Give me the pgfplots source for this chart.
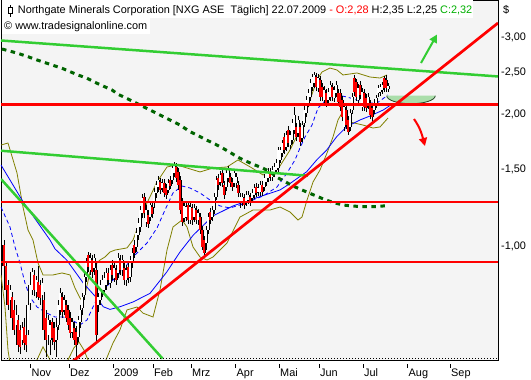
\documentclass[border=0pt]{standalone}
\usepackage{pgfplots}
\pgfplotsset{compat=1.18}
\usepackage{pgfplotstable}
\usepackage{fontspec}
\setmainfont{Liberation Sans}
\usetikzlibrary{arrows.meta}
\definecolor{bg}{RGB}{244,244,244}
\definecolor{lgreen}{RGB}{50,205,50}
\definecolor{dgreen}{RGB}{0,100,0}
\definecolor{bband}{RGB}{128,128,0}
\definecolor{bowl}{RGB}{170,222,170}
\definecolor{bowlline}{RGB}{40,70,40}
\definecolor{cgreen}{RGB}{0,176,0}

% candle wicks: low, high, break
\pgfplotstableread[row sep=\\]{
x y\\
4 0.882\\4 1.032\\4 nan\\ 6 0.769\\6 0.919\\6 nan\\ 8 0.715\\8 0.837\\8 nan\\
10 0.734\\10 0.815\\10 nan\\ 12 0.671\\12 0.785\\12 nan\\ 14 0.627\\14 0.753\\14 nan\\
16 0.637\\16 0.734\\16 nan\\ 18 0.573\\18 0.696\\18 nan\\ 20 0.567\\20 0.661\\20 nan\\
22 0.595\\22 0.671\\22 nan\\ 24 0.579\\24 0.685\\24 nan\\ 26 0.573\\26 0.644\\26 nan\\
28 0.627\\28 0.753\\28 nan\\ 30 0.715\\30 0.837\\30 nan\\ 32 0.773\\32 0.891\\32 nan\\
34 0.769\\34 0.882\\34 nan\\ 36 0.761\\36 0.854\\36 nan\\ 38 0.753\\38 0.900\\38 nan\\
40 0.734\\40 0.837\\40 nan\\ 42 0.753\\42 0.845\\42 nan\\ 44 0.611\\44 0.785\\44 nan\\
46 0.558\\46 0.715\\46 nan\\ 48 0.595\\48 0.696\\48 nan\\ 50 0.564\\50 0.678\\50 nan\\
52 0.595\\52 0.685\\52 nan\\ 54 0.579\\54 0.671\\54 nan\\ 56 0.558\\56 0.685\\56 nan\\
58 0.644\\58 0.753\\58 nan\\ 60 0.696\\60 0.802\\60 nan\\ 62 0.685\\62 0.785\\62 nan\\
64 0.696\\64 0.773\\64 nan\\ 66 0.671\\66 0.753\\66 nan\\ 68 0.644\\68 0.734\\68 nan\\
70 0.617\\70 0.707\\70 nan\\ 72 0.617\\72 0.685\\72 nan\\ 74 0.595\\74 0.671\\74 nan\\
76 0.556\\76 0.657\\76 nan\\ 78 0.604\\78 0.693\\78 nan\\ 80 0.650\\80 0.734\\80 nan\\
82 0.696\\82 0.781\\82 nan\\ 84 0.753\\84 0.872\\84 nan\\ 86 0.828\\86 0.939\\86 nan\\
88 0.872\\88 0.969\\88 nan\\ 90 0.859\\90 0.964\\90 nan\\ 92 0.845\\92 0.954\\92 nan\\
94 0.859\\94 0.959\\94 nan\\ 96 0.607\\96 0.919\\96 nan\\ 98 0.707\\98 0.781\\98 nan\\
100 0.734\\100 0.837\\100 nan\\ 102 0.765\\102 0.859\\102 nan\\ 104 0.773\\104 0.872\\104 nan\\
106 0.794\\106 0.891\\106 nan\\ 108 0.815\\108 0.891\\108 nan\\ 110 0.802\\110 0.905\\110 nan\\
112 0.837\\112 0.929\\112 nan\\ 114 0.828\\114 0.919\\114 nan\\ 116 0.815\\116 0.905\\116 nan\\
118 0.845\\118 0.964\\118 nan\\ 120 0.859\\120 0.954\\120 nan\\ 122 0.854\\122 0.954\\122 nan\\
124 0.815\\124 0.919\\124 nan\\ 126 0.811\\126 0.905\\126 nan\\ 128 0.823\\128 0.919\\128 nan\\
130 0.828\\130 0.949\\130 nan\\ 132 0.891\\132 0.990\\132 nan\\ 134 0.939\\134 1.032\\134 nan\\
136 0.969\\136 1.099\\136 nan\\ 138 1.032\\138 1.158\\138 nan\\ 140 1.076\\140 1.234\\140 nan\\
142 1.158\\142 1.314\\142 nan\\ 144 1.158\\144 1.321\\144 nan\\ 146 1.105\\146 1.240\\146 nan\\
148 1.099\\148 1.208\\148 nan\\ 150 1.140\\150 1.266\\150 nan\\ 152 1.158\\152 1.260\\152 nan\\
154 1.221\\154 1.356\\154 nan\\ 156 1.287\\156 1.407\\156 nan\\ 158 1.328\\158 1.444\\158 nan\\
160 1.314\\160 1.429\\160 nan\\ 162 1.328\\162 1.421\\162 nan\\ 164 1.293\\164 1.421\\164 nan\\
166 1.280\\166 1.385\\166 nan\\ 168 1.321\\168 1.421\\168 nan\\ 170 1.349\\170 1.444\\170 nan\\
172 1.385\\172 1.538\\172 nan\\ 174 1.436\\174 1.554\\174 nan\\ 176 1.399\\176 1.546\\176 nan\\
178 1.342\\178 1.506\\178 nan\\ 180 1.183\\180 1.444\\180 nan\\ 182 1.111\\182 1.287\\182 nan\\
184 1.134\\184 1.260\\184 nan\\ 186 1.140\\186 1.253\\186 nan\\ 188 1.122\\188 1.266\\188 nan\\
190 1.122\\190 1.253\\190 nan\\ 192 1.117\\192 1.247\\192 nan\\ 194 1.134\\194 1.247\\194 nan\\
196 1.122\\196 1.234\\196 nan\\ 198 1.117\\198 1.214\\198 nan\\ 200 1.065\\200 1.189\\200 nan\\
202 0.979\\202 1.111\\202 nan\\ 204 0.944\\204 1.054\\204 nan\\ 206 0.979\\206 1.111\\206 nan\\
208 1.065\\208 1.189\\208 nan\\ 210 1.122\\210 1.221\\210 nan\\ 212 1.140\\212 1.234\\212 nan\\
214 1.183\\214 1.321\\214 nan\\ 216 1.273\\216 1.444\\216 nan\\ 218 1.342\\218 1.459\\218 nan\\
220 1.370\\220 1.482\\220 nan\\ 222 1.363\\222 1.498\\222 nan\\ 224 1.280\\224 1.407\\224 nan\\
226 1.335\\226 1.498\\226 nan\\ 228 1.399\\228 1.522\\228 nan\\ 230 1.363\\230 1.467\\230 nan\\
232 1.335\\232 1.429\\232 nan\\ 234 1.363\\234 1.498\\234 nan\\ 236 1.356\\236 1.467\\236 nan\\
238 1.293\\238 1.407\\238 nan\\ 240 1.221\\240 1.321\\240 nan\\ 242 1.234\\242 1.321\\242 nan\\
244 1.214\\244 1.314\\244 nan\\ 246 1.234\\246 1.335\\246 nan\\ 248 1.247\\248 1.335\\248 nan\\
250 1.234\\250 1.321\\250 nan\\ 252 1.260\\252 1.349\\252 nan\\ 254 1.280\\254 1.385\\254 nan\\
256 1.293\\256 1.392\\256 nan\\ 258 1.300\\258 1.385\\258 nan\\ 260 1.300\\260 1.407\\260 nan\\
262 1.300\\262 1.407\\262 nan\\ 264 1.335\\264 1.459\\264 nan\\ 266 1.370\\266 1.498\\266 nan\\
268 1.399\\268 1.506\\268 nan\\ 270 1.407\\270 1.506\\270 nan\\ 272 1.407\\272 1.522\\272 nan\\
274 1.436\\274 1.546\\274 nan\\ 276 1.459\\276 1.579\\276 nan\\ 278 1.475\\278 1.681\\278 nan\\
280 1.546\\280 1.681\\280 nan\\ 282 1.595\\282 1.744\\282 nan\\ 284 1.621\\284 1.810\\284 nan\\
286 1.646\\286 1.829\\286 nan\\ 288 1.681\\288 1.877\\288 nan\\ 290 1.664\\290 1.829\\290 nan\\
292 1.708\\292 1.948\\292 nan\\ 294 1.800\\294 2.074\\294 nan\\ 296 1.735\\296 1.907\\296 nan\\
298 1.772\\298 1.979\\298 nan\\ 300 1.690\\300 1.907\\300 nan\\ 302 1.726\\302 1.927\\302 nan\\
304 1.868\\304 2.085\\304 nan\\ 306 1.968\\306 2.198\\306 nan\\ 308 2.074\\308 2.280\\308 nan\\
310 2.141\\310 2.403\\310 nan\\ 312 2.256\\312 2.467\\312 nan\\ 314 2.292\\314 2.493\\314 nan\\
316 2.256\\316 2.480\\316 nan\\ 318 2.244\\318 2.467\\318 nan\\ 320 2.141\\320 2.441\\320 nan\\
322 2.141\\322 2.353\\322 nan\\ 324 2.107\\324 2.316\\324 nan\\ 326 2.074\\326 2.280\\326 nan\\
328 2.107\\328 2.292\\328 nan\\ 330 2.141\\330 2.378\\330 nan\\ 332 2.141\\332 2.353\\332 nan\\
334 2.130\\334 2.316\\334 nan\\ 336 2.186\\336 2.378\\336 nan\\ 338 2.085\\338 2.280\\338 nan\\
340 2.031\\340 2.280\\340 nan\\ 342 1.927\\342 2.198\\342 nan\\ 344 1.829\\344 2.118\\344 nan\\
346 1.848\\346 2.085\\346 nan\\ 348 1.791\\348 1.979\\348 nan\\ 350 1.829\\350 2.053\\350 nan\\
352 2.000\\352 2.232\\352 nan\\ 354 2.198\\354 2.454\\354 nan\\ 356 2.141\\356 2.403\\356 nan\\
358 2.107\\358 2.340\\358 nan\\ 360 2.163\\360 2.378\\360 nan\\ 362 2.031\\362 2.292\\362 nan\\
364 2.031\\364 2.280\\364 nan\\ 366 2.021\\366 2.221\\366 nan\\ 368 2.053\\368 2.232\\368 nan\\
370 1.948\\370 2.152\\370 nan\\ 372 1.917\\372 2.107\\372 nan\\ 374 2.000\\374 2.163\\374 nan\\
376 2.063\\376 2.209\\376 nan\\ 378 2.186\\378 2.328\\378 nan\\ 380 2.198\\380 2.340\\380 nan\\
382 2.221\\382 2.365\\382 nan\\ 384 2.244\\384 2.441\\384 nan\\ 386 2.244\\386 2.454\\386 nan\\
388 2.25\\388 2.35\\388 nan\\
}\wicks

% falling candles: open, close, break
\pgfplotstableread[row sep=\\]{
x y\\
4 1.005\\4 0.900\\4 nan\\ 6 0.900\\6 0.794\\6 nan\\ 8 0.815\\8 0.734\\8 nan\\
12 0.765\\12 0.685\\12 nan\\ 14 0.715\\14 0.644\\14 nan\\ 18 0.678\\18 0.595\\18 nan\\
20 0.644\\20 0.589\\20 nan\\ 24 0.654\\24 0.601\\24 nan\\ 26 0.627\\26 0.595\\26 nan\\
34 0.859\\34 0.794\\34 nan\\ 38 0.828\\38 0.765\\38 nan\\ 40 0.815\\40 0.761\\40 nan\\
44 0.753\\44 0.644\\44 nan\\ 46 0.685\\46 0.611\\46 nan\\ 52 0.671\\52 0.617\\52 nan\\
54 0.650\\54 0.604\\54 nan\\ 62 0.765\\62 0.707\\62 nan\\ 66 0.734\\66 0.685\\66 nan\\
68 0.715\\68 0.661\\68 nan\\ 70 0.685\\70 0.633\\70 nan\\ 74 0.650\\74 0.611\\74 nan\\
76 0.637\\76 0.595\\76 nan\\ 88 0.954\\88 0.896\\88 nan\\ 92 0.929\\92 0.872\\92 nan\\
96 0.882\\96 0.627\\96 nan\\ 108 0.868\\108 0.837\\108 nan\\ 112 0.905\\112 0.859\\112 nan\\
116 0.882\\116 0.837\\116 nan\\ 120 0.929\\120 0.882\\120 nan\\ 124 0.891\\124 0.837\\124 nan\\
128 0.896\\128 0.845\\128 nan\\ 134 1.005\\134 0.964\\134 nan\\ 144 1.293\\144 1.189\\144 nan\\
148 1.177\\148 1.122\\148 nan\\ 152 1.227\\152 1.183\\152 nan\\ 160 1.399\\160 1.342\\160 nan\\
164 1.392\\164 1.321\\164 nan\\ 166 1.356\\166 1.307\\166 nan\\ 170 1.414\\170 1.370\\170 nan\\
176 1.514\\176 1.429\\176 nan\\ 178 1.475\\178 1.377\\178 nan\\ 180 1.414\\180 1.208\\180 nan\\
182 1.253\\182 1.134\\182 nan\\ 188 1.240\\188 1.146\\188 nan\\ 192 1.221\\192 1.146\\192 nan\\
196 1.208\\196 1.146\\196 nan\\ 200 1.164\\200 1.088\\200 nan\\ 202 1.088\\202 0.995\\202 nan\\
204 1.032\\204 0.964\\204 nan\\ 210 1.195\\210 1.146\\210 nan\\ 218 1.429\\218 1.377\\218 nan\\
222 1.467\\222 1.392\\222 nan\\ 224 1.377\\224 1.307\\224 nan\\ 230 1.436\\230 1.392\\230 nan\\
232 1.399\\232 1.363\\232 nan\\ 238 1.377\\238 1.321\\238 nan\\ 244 1.287\\244 1.240\\244 nan\\
250 1.293\\250 1.260\\250 nan\\ 256 1.363\\256 1.321\\256 nan\\ 262 1.377\\262 1.328\\262 nan\\
270 1.475\\270 1.436\\270 nan\\ 284 1.772\\284 1.655\\284 nan\\ 288 1.838\\288 1.717\\288 nan\\
296 1.868\\296 1.772\\296 nan\\ 300 1.868\\300 1.726\\300 nan\\ 316 2.428\\316 2.304\\316 nan\\
320 2.390\\320 2.186\\320 nan\\ 322 2.304\\322 2.186\\322 nan\\ 326 2.232\\326 2.118\\326 nan\\
332 2.304\\332 2.186\\332 nan\\ 338 2.232\\338 2.130\\338 nan\\ 340 2.232\\340 2.074\\340 nan\\
342 2.152\\342 1.968\\342 nan\\ 346 2.042\\346 1.887\\346 nan\\ 348 1.938\\348 1.819\\348 nan\\
354 2.415\\354 2.244\\354 nan\\ 356 2.365\\356 2.186\\356 nan\\ 360 2.328\\360 2.209\\360 nan\\
364 2.232\\364 2.074\\364 nan\\ 366 2.175\\366 2.063\\366 nan\\ 370 2.107\\370 1.989\\370 nan\\
372 2.063\\372 1.968\\372 nan\\ 384 2.415\\384 2.292\\384 nan\\ 386 2.390\\386 2.292\\386 nan\\
}\downbodies

% rising candles: open, close, break
\pgfplotstableread[row sep=\\]{
x y\\
10 0.753\\10 0.794\\10 nan\\ 16 0.661\\16 0.696\\16 nan\\ 22 0.611\\22 0.650\\22 nan\\
28 0.644\\28 0.734\\28 nan\\ 30 0.741\\30 0.815\\30 nan\\ 32 0.794\\32 0.872\\32 nan\\
36 0.785\\36 0.837\\36 nan\\ 42 0.773\\42 0.823\\42 nan\\ 48 0.627\\48 0.678\\48 nan\\
50 0.611\\50 0.661\\50 nan\\ 56 0.611\\56 0.654\\56 nan\\ 58 0.661\\58 0.734\\58 nan\\
60 0.715\\60 0.781\\60 nan\\ 64 0.715\\64 0.753\\64 nan\\ 72 0.637\\72 0.671\\72 nan\\
78 0.620\\78 0.678\\78 nan\\ 80 0.671\\80 0.715\\80 nan\\ 82 0.722\\82 0.765\\82 nan\\
84 0.773\\84 0.850\\84 nan\\ 86 0.850\\86 0.919\\86 nan\\ 90 0.882\\90 0.939\\90 nan\\
94 0.891\\94 0.939\\94 nan\\ 98 0.734\\98 0.765\\98 nan\\ 100 0.753\\100 0.815\\100 nan\\
102 0.785\\102 0.837\\102 nan\\ 104 0.794\\104 0.845\\104 nan\\ 106 0.815\\106 0.868\\106 nan\\
110 0.823\\110 0.882\\110 nan\\ 114 0.845\\114 0.891\\114 nan\\ 118 0.868\\118 0.939\\118 nan\\
122 0.882\\122 0.929\\122 nan\\ 126 0.837\\126 0.882\\126 nan\\ 130 0.850\\130 0.929\\130 nan\\
132 0.915\\132 0.964\\132 nan\\ 136 0.995\\136 1.071\\136 nan\\ 138 1.059\\138 1.128\\138 nan\\
140 1.105\\140 1.208\\140 nan\\ 142 1.189\\142 1.287\\142 nan\\ 146 1.134\\146 1.208\\146 nan\\
150 1.164\\150 1.240\\150 nan\\ 154 1.253\\154 1.328\\154 nan\\ 156 1.321\\156 1.377\\156 nan\\
158 1.363\\158 1.414\\158 nan\\ 162 1.356\\162 1.392\\162 nan\\ 168 1.342\\168 1.392\\168 nan\\
172 1.414\\172 1.506\\172 nan\\ 174 1.467\\174 1.530\\174 nan\\ 184 1.158\\184 1.234\\184 nan\\
186 1.164\\186 1.227\\186 nan\\ 190 1.146\\190 1.227\\190 nan\\ 194 1.164\\194 1.221\\194 nan\\
198 1.146\\198 1.189\\198 nan\\ 206 1.016\\206 1.088\\206 nan\\ 208 1.088\\208 1.164\\208 nan\\
212 1.164\\212 1.208\\212 nan\\ 214 1.208\\214 1.293\\214 nan\\ 216 1.293\\216 1.414\\216 nan\\
220 1.399\\220 1.452\\220 nan\\ 226 1.363\\226 1.467\\226 nan\\ 228 1.429\\228 1.490\\228 nan\\
234 1.392\\234 1.467\\234 nan\\ 236 1.392\\236 1.436\\236 nan\\ 240 1.253\\240 1.293\\240 nan\\
242 1.260\\242 1.293\\242 nan\\ 246 1.260\\246 1.307\\246 nan\\ 248 1.273\\248 1.307\\248 nan\\
252 1.287\\252 1.321\\252 nan\\ 254 1.307\\254 1.356\\254 nan\\ 258 1.328\\258 1.356\\258 nan\\
260 1.328\\260 1.377\\260 nan\\ 264 1.363\\264 1.429\\264 nan\\ 266 1.399\\266 1.467\\266 nan\\
268 1.429\\268 1.475\\268 nan\\ 272 1.436\\272 1.490\\272 nan\\ 274 1.467\\274 1.514\\274 nan\\
276 1.490\\276 1.546\\276 nan\\ 278 1.506\\278 1.655\\278 nan\\ 280 1.571\\280 1.655\\280 nan\\
282 1.629\\282 1.717\\282 nan\\ 286 1.681\\286 1.791\\286 nan\\ 290 1.699\\290 1.791\\290 nan\\
292 1.744\\292 1.907\\292 nan\\ 294 1.838\\294 1.989\\294 nan\\ 298 1.810\\298 1.938\\298 nan\\
302 1.763\\302 1.887\\302 nan\\ 304 1.907\\304 2.042\\304 nan\\ 306 2.010\\306 2.152\\306 nan\\
308 2.118\\308 2.232\\308 nan\\ 310 2.186\\310 2.353\\310 nan\\ 312 2.304\\312 2.428\\312 nan\\
314 2.353\\314 2.454\\314 nan\\ 318 2.292\\318 2.415\\318 nan\\ 324 2.152\\324 2.268\\324 nan\\
328 2.152\\328 2.244\\328 nan\\ 330 2.186\\330 2.328\\330 nan\\ 334 2.175\\334 2.268\\334 nan\\
336 2.232\\336 2.328\\336 nan\\ 344 1.868\\344 2.074\\344 nan\\ 350 1.868\\350 2.010\\350 nan\\
352 2.042\\352 2.186\\352 nan\\ 358 2.152\\358 2.292\\358 nan\\ 362 2.074\\362 2.244\\362 nan\\
368 2.096\\368 2.186\\368 nan\\ 374 2.042\\374 2.118\\374 nan\\ 376 2.096\\376 2.175\\376 nan\\
378 2.232\\378 2.292\\378 nan\\ 380 2.244\\380 2.304\\380 nan\\ 382 2.268\\382 2.328\\382 nan\\
388 2.28\\388 2.32\\388 nan\\
}\upbodies

\begin{document}
\begin{tikzpicture}
\useasboundingbox (0pt,0pt) rectangle (531pt,380pt);
\begin{axis}[
  at={(1pt,20pt)}, anchor=south west,
  scale only axis, width=497pt, height=360pt,
  xmin=1, xmax=498, ymode=log, ymin=0.5497, ymax=3.6377,
  axis background/.style={fill=bg},
  axis line style={line width=0.8pt, black},
  xtick={30.5,69,113,153,191,235.5,279,319,363,407.5,450},
  xticklabels={Nov,Dez,2009,Feb,Mrz,Apr,Mai,Jun,Jul,Aug,Sep},
  ytick={1,1.5,2,2.5,3},
  yticklabels={{-1,00},{-1,50},{-2,00},{-2,50},{-3,00}},
  yticklabel pos=right,
  xtick pos=lower,
  ytick style={draw=none},
  tick align=inside,
  major tick length=4pt,
  xtick style={black, line width=0.6pt, yshift=-8pt},
  xticklabel style={anchor=base west, inner sep=0pt, xshift=1pt, yshift=-16.7pt},
  yticklabel style={anchor=base west, inner sep=0pt, xshift=3pt, yshift=-3.9pt},
  tick label style={font=\fontsize{10.9}{13}\selectfont},
  unbounded coords=jump,
  filter discard warning=false,
]
% Bollinger bands
\addplot[bband, line width=0.8pt] coordinates {(1,1.699)(8,1.717)(17,1.467)(23,1.227)(28,1.088)(33,1.032)(38,0.915)(43,0.859)(53,0.859)(62,0.868)(70,0.859)(75,0.802)(80,0.761)(83,0.745)(86,0.794)(90,0.872)(95,0.905)(100,0.929)(105,0.944)(110,0.969)(115,0.979)(127,0.990)(133,1.032)(147,1.253)(157,1.399)(167,1.514)(177,1.530)(187,1.506)(200,1.475)(213,1.506)(227,1.514)(238,1.571)(252,1.506)(263,1.452)(273,1.475)(280,1.522)(290,1.655)(303,1.907)(310,2.152)(317,2.390)(322,2.493)(330,2.545)(337,2.519)(343,2.454)(357,2.480)(370,2.428)(380,2.415)(387,2.454)};
\addplot[bband, line width=0.8pt] coordinates {(1,0.859)(5,0.726)(8,0.579)(11,0.522)(20,0.495)(30,0.517)(37,0.550)(43,0.589)(50,0.550)(60,0.517)(68,0.550)(74,0.586)(79,0.604)(84,0.579)(90,0.536)(100,0.522)(106,0.550)(113,0.601)(120,0.644)(127,0.715)(137,0.726)(143,0.703)(153,0.689)(160,0.794)(167,0.979)(173,1.105)(182,1.146)(187,1.105)(193,0.995)(200,0.944)(207,0.929)(213,0.944)(227,1.016)(240,1.164)(253,1.208)(270,1.208)(280,1.227)(290,1.195)(298,1.146)(302,1.164)(307,1.273)(313,1.399)(320,1.490)(327,1.629)(333,1.772)(338,1.938)(342,2.010)(350,1.917)(363,1.887)(373,1.858)(380,1.868)(388,1.958)};
% moving averages
\addplot[blue, line width=0.8pt] coordinates {(1,1.530)(23,1.262)(50,1.032)(55,0.985)(66.7,0.929)(83.3,0.823)(96.7,0.761)(103.3,0.727)(110,0.717)(120,0.727)(133.3,0.746)(150,0.780)(166.7,0.872)(180,0.969)(193.3,1.059)(206.7,1.134)(213,1.171)(233,1.234)(250,1.273)(265,1.307)(280,1.342)(290,1.388)(306.7,1.477)(316.7,1.571)(326.7,1.655)(336.7,1.775)(346.7,1.871)(360,1.938)(370,1.979)(383.3,2.042)(393.3,2.115)};
\addplot[blue, line width=0.8pt, dash pattern=on 4pt off 3pt] coordinates {(1,1.227)(10,1.105)(15,0.995)(20,0.915)(25,0.823)(30,0.765)(37,0.726)(47,0.703)(55,0.689)(63,0.689)(72,0.678)(80,0.661)(87,0.678)(93,0.726)(100,0.781)(110,0.823)(123,0.882)(133,0.944)(147,1.016)(157,1.099)(165,1.208)(173,1.321)(182,1.370)(190,1.356)(200,1.321)(210,1.273)(220,1.234)(230,1.221)(240,1.240)(253,1.273)(263,1.300)(277,1.363)(287,1.467)(295,1.571)(300,1.673)(305,1.772)(312,1.887)(318,2.063)(328,2.175)(337,2.209)(347,2.186)(357,2.152)(367,2.118)(377,2.118)(388,2.209)};
% candles
\addplot[black, line width=0.8pt] table {\wicks};
\addplot[black, line width=3pt] table {\downbodies};
\addplot[black, line width=3pt] table {\upbodies};
\addplot[red, line width=1.2pt] table {\downbodies};
\addplot[white, line width=1.2pt] table {\upbodies};
% long moving average (dotted)
\addplot[dgreen, line width=3pt, dash pattern=on 4.5pt off 4.5pt] coordinates {(2,2.812)(12,2.773)(20,2.739)(28,2.701)(37,2.655)(45,2.618)(53,2.582)(62,2.542)(70,2.497)(78,2.454)(87,2.412)(95,2.361)(103,2.316)(112,2.268)(118,2.218)(130,2.152)(140,2.096)(150,2.042)(160,1.989)(170,1.938)(180,1.887)(190,1.822)(197,1.791)(205,1.751)(215,1.708)(223,1.670)(230,1.635)(238,1.593)(245,1.565)(253,1.536)(262,1.508)(270,1.477)(277,1.434)(285,1.402)(293,1.370)(302,1.342)(310,1.318)(318,1.295)(326,1.273)(334,1.255)(343,1.240)(352,1.234)(360,1.230)(368,1.230)(377,1.230)(387,1.236)};
% green trend lines
\addplot[lgreen, line width=2.5pt] coordinates {(1,2.941)(498,2.435)};
\addplot[lgreen, line width=2.5pt] coordinates {(1,1.649)(308,1.446)};
\addplot[lgreen, line width=2.5pt] coordinates {(1,1.421)(162.5,0.554)};
% bottom dotted line
\draw[black, line width=0.6pt, dash pattern=on 1pt off 2pt] (axis cs:1,0.5547) -- (axis cs:498,0.5547);
% bowl
\fill[bowl] (axis cs:386.7,2.201) arc[start angle=180, end angle=360, x radius=24.3pt, y radius=8pt] -- cycle;
\draw[bowlline, line width=0.8pt] (axis cs:386.7,2.201) arc[start angle=180, end angle=360, x radius=24.3pt, y radius=8pt];
% red lines
\addplot[red, line width=2.7pt] coordinates {(1,2.10)(498,2.10)};
\addplot[red, line width=2.7pt] coordinates {(1,1.26)(498,1.26)};
\addplot[red, line width=2.7pt] coordinates {(1,0.92)(498,0.92)};
\addplot[red, line width=2.7pt] coordinates {(72.3,0.5447)(498,3.224)};
\end{axis}
\begin{scope}[x=1pt,y=1pt]
% arrows
\draw[lgreen, line width=2pt, -{Triangle[length=8pt,width=8pt]}] (421,317) -- (437,345.5);
\draw[red, line width=2pt, -{Triangle[length=8pt,width=8pt]}] (414,261) to[out=-55,in=105] (425,234);
% header
\fill[white] (1.5,362) rectangle (473,379.5);
\fill[white] (1.5,346) rectangle (150,362);
\draw[black, line width=0.7pt] (10,363.3) -- (10,375);
\filldraw[fill=white, draw=black, line width=0.7pt] (8.3,366.7) rectangle (12,372.7);
\node[anchor=base west, inner sep=0pt, font=\fontsize{10.9}{13}\selectfont] at (17.7,366) {Northgate Minerals Corporation [NXG ASE\ \ Täglich] 22.07.2009 \textcolor{red}{- O:2,28} H:2,35 L:2,25 \textcolor{cgreen}{C:2,32}};
\node[anchor=base west, inner sep=0pt, font=\fontsize{10.9}{13}\selectfont] at (4,350) {© www.tradesignalonline.com};
\node[anchor=base west, inner sep=0pt, font=\fontsize{10.9}{13}\selectfont] at (503,366) {\$};
\end{scope}
\end{tikzpicture}
\end{document}
